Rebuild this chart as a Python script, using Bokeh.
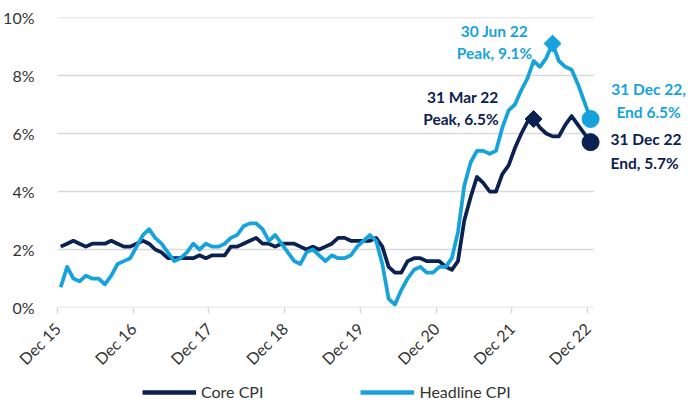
import numpy as np
import pandas as pd
from bokeh.plotting import figure
from bokeh.layouts import column
from bokeh.models import (Range1d, FixedTicker, DatetimeTickFormatter, PrintfTickFormatter,
                          Legend, LegendItem, Label)
from bokeh.embed import file_html
from bokeh.resources import INLINE

# ---------------- data ----------------
start_month = "2015-12-01"
axis_end = "2023-01-01"
n_months = 85
core_cpi = [2.1,
            2.2, 2.3, 2.2, 2.1, 2.2, 2.2, 2.2, 2.3, 2.2, 2.1, 2.1, 2.2,
            2.3, 2.2, 2.0, 1.9, 1.7, 1.7, 1.7, 1.7, 1.7, 1.8, 1.7, 1.8,
            1.8, 1.8, 2.1, 2.1, 2.2, 2.3, 2.4, 2.2, 2.2, 2.1, 2.2, 2.2,
            2.2, 2.1, 2.0, 2.1, 2.0, 2.1, 2.2, 2.4, 2.4, 2.3, 2.3, 2.3,
            2.3, 2.4, 2.1, 1.4, 1.2, 1.2, 1.6, 1.7, 1.7, 1.6, 1.6, 1.6,
            1.4, 1.3, 1.6, 3.0, 3.8, 4.5, 4.3, 4.0, 4.0, 4.6, 4.9, 5.5,
            6.0, 6.4, 6.5, 6.2, 6.0, 5.9, 5.9, 6.3, 6.6, 6.3, 6.0, 5.7]
headline_cpi = [0.7,
                1.4, 1.0, 0.9, 1.1, 1.0, 1.0, 0.8, 1.1, 1.5, 1.6, 1.7, 2.1,
                2.5, 2.7, 2.4, 2.2, 1.9, 1.6, 1.7, 1.9, 2.2, 2.0, 2.2, 2.1,
                2.1, 2.2, 2.4, 2.5, 2.8, 2.9, 2.9, 2.7, 2.3, 2.5, 2.2, 1.9,
                1.6, 1.5, 1.9, 2.0, 1.8, 1.6, 1.8, 1.7, 1.7, 1.8, 2.1, 2.3,
                2.5, 2.3, 1.5, 0.3, 0.1, 0.6, 1.0, 1.3, 1.4, 1.2, 1.2, 1.4,
                1.4, 1.7, 2.6, 4.2, 5.0, 5.4, 5.4, 5.3, 5.4, 6.2, 6.8, 7.0,
                7.5, 7.9, 8.5, 8.3, 8.6, 9.1, 8.5, 8.3, 8.2, 7.7, 7.1, 6.5]
tick_dates = ["2015-12-01", "2016-12-01", "2017-12-01", "2018-12-01",
              "2019-12-01", "2020-12-01", "2021-12-01", "2022-12-01"]
y_ticks = [0, 2, 4, 6, 8, 10]
series_names = ["Core CPI", "Headline CPI"]
core_peak_month = "2022-03-01"
head_peak_month = "2022-06-01"
core_peak_text = ["31 Mar 22", "Peak, 6.5%"]
head_peak_text = ["30 Jun 22", "Peak, 9.1%"]
head_end_text = ["31 Dec 22,", "End 6.5%"]
core_end_text = ["31 Dec 22", "End, 5.7%"]

# ---------------- styling ----------------
NAVY = "#0b2151"
BLUE = "#16a3dd"
GRID = "#d9d9d9"
TXT = "#333333"
FONT = "Lato"
W = 688
H_MAIN, H_LEG = 378, 24
FRAME_L, FRAME_T, FRAME_H = 57, 17, 290
DATA_PX = 536.3          # pixel width of the dated part of the axis


def ms(ts):
    return pd.Timestamp(ts).timestamp() * 1000.0


months = pd.date_range(start_month, periods=n_months, freq="MS")
month_mid = months + (months + pd.offsets.MonthBegin(1) - months) / 2
x_vals = [ms(t) for t in month_mid]

x0, x1 = ms(start_month), ms(axis_end)
frame_w = W - FRAME_L
x_right = x0 + (x1 - x0) * frame_w / DATA_PX

p = figure(width=W, height=H_MAIN, output_backend="svg", toolbar_location=None,
           x_range=Range1d(x0, x_right), y_range=Range1d(0, 10),
           min_border_left=FRAME_L, min_border_right=0, min_border_top=FRAME_T,
           min_border_bottom=H_MAIN - FRAME_T - FRAME_H)
p.outline_line_color = None
p.xgrid.visible = False
p.ygrid.visible = False

# horizontal gridlines only over the dated part of the axis
p.segment(x0=[x0] * len(y_ticks), x1=[x1] * len(y_ticks), y0=y_ticks, y1=y_ticks,
          line_color=GRID, line_width=1.5)

r_core = p.line(x_vals, core_cpi, line_color=NAVY, line_width=3.75, line_join="round")
r_head = p.line(x_vals, headline_cpi, line_color=BLUE, line_width=3.75, line_join="round")

# axes
p.xaxis.ticker = FixedTicker(ticks=[ms(d) for d in tick_dates])
p.xaxis.formatter = DatetimeTickFormatter(years="%b %y", months="%b %y", days="%b %y")
p.xaxis.major_label_orientation = np.pi / 4
p.xaxis.major_label_standoff = 12
p.xaxis.major_tick_out = 6
p.xaxis.major_tick_in = 0
p.xaxis.minor_tick_line_color = None
p.xaxis.major_tick_line_color = GRID
p.xaxis.major_tick_line_width = 1.5
p.xaxis.axis_line_color = None
p.xaxis.major_label_text_font = FONT
p.xaxis.major_label_text_font_size = "16px"
p.xaxis.major_label_text_color = TXT

p.yaxis.ticker = FixedTicker(ticks=y_ticks)
p.yaxis.formatter = PrintfTickFormatter(format="%d%%")
p.yaxis.axis_line_color = None
p.yaxis.major_tick_line_color = None
p.yaxis.minor_tick_line_color = None
p.yaxis.major_label_standoff = 17
p.yaxis.major_label_text_font = FONT
p.yaxis.major_label_text_font_size = "16px"
p.yaxis.major_label_text_color = TXT

# markers
i_core_peak = list(months).index(pd.Timestamp(core_peak_month))
i_head_peak = list(months).index(pd.Timestamp(head_peak_month))
i_end = n_months - 1
p.scatter([x_vals[i_core_peak]], [core_cpi[i_core_peak]], marker="square", angle=np.pi / 4,
          size=12, color=NAVY)
p.scatter([x_vals[i_head_peak]], [headline_cpi[i_head_peak]], marker="square", angle=np.pi / 4,
          size=12, color=BLUE)
p.scatter([x_vals[i_end]], [headline_cpi[i_end]], marker="circle", size=17, color=BLUE)
p.scatter([x_vals[i_end]], [core_cpi[i_end]], marker="circle", size=17, color=NAVY)


def add_text(xv, yv, text, color, dx, dy, align):
    p.add_layout(Label(x=xv, y=yv, text=text, x_offset=dx, y_offset=dy,
                       text_align=align, text_baseline="middle", text_color=color,
                       text_font=FONT, text_font_style="bold", text_font_size="15.5px"))


xp, yp = x_vals[i_head_peak], headline_cpi[i_head_peak]
add_text(xp, yp, head_peak_text[0], BLUE, -58, 13, "center")
add_text(xp, yp, head_peak_text[1], BLUE, -58, -9, "center")

xp, yp = x_vals[i_core_peak], core_cpi[i_core_peak]
add_text(xp, yp, core_peak_text[0], NAVY, -35, 22, "right")
add_text(xp, yp, core_peak_text[1], NAVY, -35, 0, "right")

xp, yp = x_vals[i_end], headline_cpi[i_end]
add_text(xp, yp, head_end_text[0], BLUE, 58, 30, "center")
add_text(xp, yp, head_end_text[1], BLUE, 58, 7, "center")

xp, yp = x_vals[i_end], core_cpi[i_end]
add_text(xp, yp, core_end_text[0], NAVY, 20, 3, "left")
add_text(xp, yp, core_end_text[1], NAVY, 20, -21, "left")

# ---------------- legend strip (frame is aligned with the chart's frame) ----------------
pl = figure(width=W, height=H_LEG, output_backend="svg", toolbar_location=None,
            x_range=Range1d(x0, x_right), y_range=Range1d(20, 30),
            min_border_left=0, min_border_right=0, min_border_top=0, min_border_bottom=0)
pl.axis.visible = False
pl.grid.visible = False
pl.outline_line_color = None
# same series, drawn out of this strip's view: only their legend glyphs show
lc = pl.line(x_vals, core_cpi, line_color=NAVY, line_width=4.5)
lh = pl.line(x_vals, headline_cpi, line_color=BLUE, line_width=4.5)
legend = Legend(items=[LegendItem(label=series_names[0], renderers=[lc]),
                       LegendItem(label=series_names[1], renderers=[lh])],
                orientation="horizontal", location=(85, 1), padding=0, margin=0,
                spacing=97, glyph_width=54, glyph_height=18, label_height=18,
                label_standoff=5, label_text_font=FONT, label_text_font_size="16px",
                label_text_color=TXT, border_line_color=None, background_fill_alpha=0)
pl.add_layout(legend)

open("out.html", "w").write(file_html(column(p, pl, spacing=0), INLINE))
